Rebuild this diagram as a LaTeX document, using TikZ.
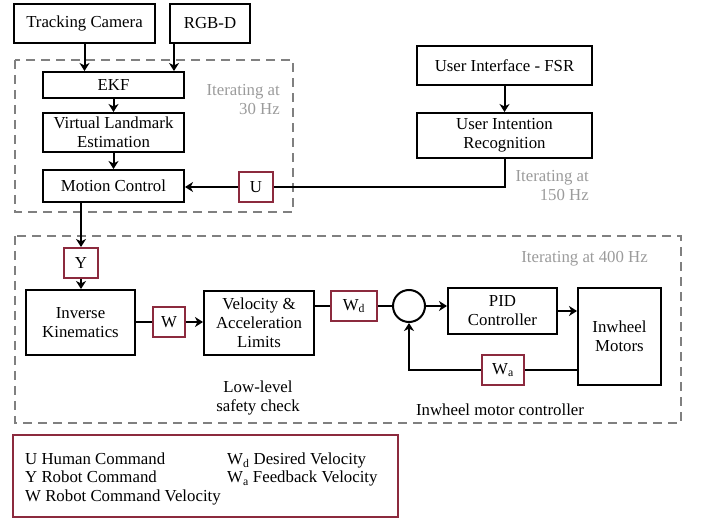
\documentclass[tikz,border=0pt]{standalone}
\usepackage{fontspec}
\setmainfont{Liberation Serif}
\usetikzlibrary{arrows.meta}
\definecolor{boxred}{RGB}{140,42,62}
\definecolor{dashgray}{RGB}{128,128,128}
\definecolor{txtgray}{RGB}{155,155,155}
\begin{document}
\begin{tikzpicture}[x=1pt,y=-1pt,
  font=\fontsize{16.8pt}{19pt}\selectfont,
  blk/.style={draw,line width=2pt,align=center,inner sep=0pt},
  sig/.style={draw=boxred,line width=2pt,inner sep=0pt,minimum width=#1,minimum height=30pt},
  sig/.default=34pt,
  conn/.style={line width=2pt},
  arr/.style={conn,-{Stealth[length=8pt,width=10pt,inset=2.5pt]}},
  dashbox/.style={draw=dashgray,line width=2pt,dash pattern=on 9pt off 6pt},
  graytxt/.style={text=txtgray,align=right,inner sep=0pt},
  plain/.style={inner sep=0pt,align=center},
  leg/.style={inner sep=0pt,anchor=west,text height=0.7em,text depth=0.2em}
]
\useasboundingbox (0,0) rectangle (702,518);

% dashed frames
\draw[dashbox] (15,60) rectangle (293,212);
\draw[dashbox] (15,236) rectangle (681,423);

% top-left chain
\node[blk,minimum width=141pt,minimum height=39pt] (tc) at (84.5,23.5) {Tracking Camera};
\node[blk,minimum width=80pt,minimum height=39pt] (rgbd) at (210,23.5) {RGB-D};
\node[blk,minimum width=141pt,minimum height=26pt] (ekf) at (113.5,85) {EKF};
\node[blk,minimum width=141pt,minimum height=39pt] (vle) at (113.5,132.5) {Virtual Landmark\\Estimation};
\node[blk,minimum width=141pt,minimum height=32pt] (mc) at (113.5,186) {Motion Control};
\node[sig] (U) at (256,187) {U};

\node[graytxt,anchor=east] (it30) at (280,99.5) {Iterating at\\30 Hz};

% user interface
\node[blk,minimum width=175pt,minimum height=39pt] (uif) at (504.5,65.5) {User Interface - FSR};
\node[blk,minimum width=175pt,minimum height=45pt] (uir) at (504.5,135.5) {User Intention\\Recognition};
\node[graytxt,anchor=east] (it150) at (589,185.5) {Iterating at\\150 Hz};

% low level
\node[sig] (Y) at (81,263) {Y};
\node[blk,minimum width=109pt,minimum height=65pt] (ik) at (80.5,322.5) {Inverse\\Kinematics};
\node[sig=32pt] (W) at (169,322) {W};
\node[blk,minimum width=110pt,minimum height=64pt] (val) at (259,323) {Velocity \&\\Acceleration\\Limits};
\node[sig=46pt] (Wd) at (354,306) {W\textsubscript{d}};
\node[draw,circle,line width=2pt,minimum size=32pt,inner sep=0pt] (sum) at (409,306) {};
\node[blk,minimum width=109pt,minimum height=46pt] (pid) at (502.5,311) {PID\\Controller};
\node[blk,minimum width=83pt,minimum height=97pt] (im) at (619.5,336.5) {Inwheel\\Motors};
\node[sig=42pt] (Wa) at (503,370) {W\textsubscript{a}};

\node[graytxt,anchor=east] (it400) at (648,259) {Iterating at 400 Hz};
\node[plain] (llsc) at (258,398) {Low-level\\safety check};
\node[plain] (imc) at (500,410) {Inwheel motor controller};

% connectors
\draw[arr] (tc.south) -- (tc.south |- ekf.north);
\draw[arr] ([xshift=5pt]rgbd.south west) -- ([xshift=5pt]rgbd.south west |- ekf.north);
\draw[arr] (ekf.south) -- (vle.north);
\draw[arr] (vle.south) -- (mc.north);
\draw[arr] (uif.south) -- (uir.north);
\draw[conn] (uir.south) |- (U.east);
\draw[arr] (U.west) -- (U.west -| mc.east);
\draw[arr] (Y.north |- mc.south) -- (Y.north);
\draw[arr] (Y.south) -- (Y.south |- ik.north);
\draw[conn] (ik.east |- W.west) -- (W.west);
\draw[arr] (W.east) -- (W.east -| val.west);
\draw[conn] (val.east |- Wd.west) -- (Wd.west);
\draw[conn] (Wd.east) -- (sum.west);
\draw[arr] (sum.east) -- (sum.east -| pid.west);
\draw[arr] (pid.east) -- (pid.east -| im.west);
\draw[conn] (im.west |- Wa.east) -- (Wa.east);
\draw[arr] (Wa.west) -| (sum.south);

% legend
\draw[draw=boxred,line width=2pt] (13,435) rectangle (398,517);
\node[leg] (lu) at (25,462) {U Human Command};
\node[leg] (ly) at (25,480.5) {Y Robot Command};
\node[leg] (lw) at (25,499) {W Robot Command Velocity};
\node[leg] (lwd) at (227,462) {W\textsubscript{d} Desired Velocity};
\node[leg] (lwa) at (227,480.5) {W\textsubscript{a} Feedback Velocity};
\end{tikzpicture}
\end{document}
